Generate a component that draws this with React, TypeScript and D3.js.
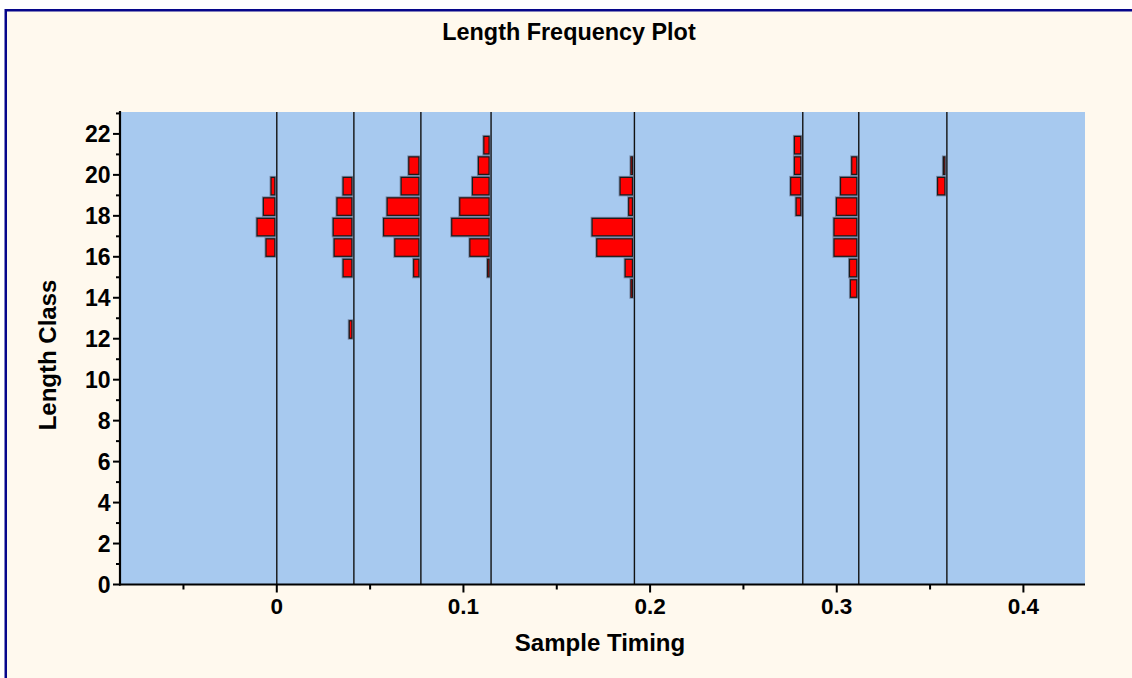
import React from "react";
import * as d3 from "d3";

// ---- data ----
const sampleTimings = [0, 0.0413, 0.0772, 0.1148, 0.1916, 0.2818, 0.3118, 0.359];
const lengthClasses = [12, 13, 14, 15, 16, 17, 18, 19, 20, 21];
// frequency (bar length, in 0.001 timing units) per length class, one array per sample
const freqSample1 = [0, 0, 0, 0, 4.7, 9.5, 6.1, 2.0, 0, 0];
const freqSample2 = [1.4, 0, 0, 4.7, 9.5, 10.0, 8.0, 4.7, 0, 0];
const freqSample3 = [0, 0, 0, 2.8, 12.9, 18.9, 17.0, 9.5, 5.4, 0];
const freqSample4 = [0, 0, 0, 0.8, 10.3, 20.0, 15.7, 8.9, 5.7, 2.8];
const freqSample5 = [0, 0, 0.8, 3.9, 19.1, 21.6, 2.0, 6.6, 0.8, 0];
const freqSample6 = [0, 0, 0, 0, 0, 0, 2.5, 5.4, 3.4, 3.4];
const freqSample7 = [0, 0, 3.4, 3.9, 12.2, 12.2, 10.9, 8.7, 2.7, 0];
const freqSample8 = [0, 0, 0, 0, 0, 0, 0, 3.9, 0.8, 0];
const frequencies = [
  freqSample1, freqSample2, freqSample3, freqSample4,
  freqSample5, freqSample6, freqSample7, freqSample8,
];
const freqUnit = 0.001;

const xMajorTicks = [0, 0.1, 0.2, 0.3, 0.4];
const xTickLabels = ["0", "0.1", "0.2", "0.3", "0.4"];
const xMinorTicks = [-0.05, 0.05, 0.15, 0.25, 0.35];
const yMajorTicks = [0, 2, 4, 6, 8, 10, 12, 14, 16, 18, 20, 22];
const yMinorTicks = [1, 3, 5, 7, 9, 11, 13, 15, 17, 19, 21, 23];

const title = "Length Frequency Plot";
const xTitle = "Sample Timing";
const yTitle = "Length Class";

// ---- layout ----
const W = 1132;
const H = 678;
const plotLeft = 120;
const plotRight = 1085;
const plotTop = 112;
const plotBottom = 584.5;
const FONT = "'Liberation Sans', Arial, sans-serif";

export default function App() {
  const x = d3.scaleLinear().domain([-0.084, 0.433]).range([plotLeft, plotRight]);
  const y = d3.scaleLinear().domain([0, 23.07]).range([plotBottom, plotTop]);

  const bars: { key: string; x0: number; x1: number; y0: number; y1: number }[] = [];
  frequencies.forEach((arr, si) => {
    const t = sampleTimings[si];
    arr.forEach((f, ci) => {
      if (f <= 0) return;
      const c = lengthClasses[ci];
      const xr = x(t) - 2;
      const xl = xr - (x(t) - x(t - f * freqUnit));
      bars.push({ key: `${si}-${c}`, x0: xl, x1: xr, y0: y(c + 1) + 2.5, y1: y(c) - 0.5 });
    });
  });

  return (
    <svg
      width={W}
      height={H}
      style={{ position: "absolute", left: 0, top: 0, display: "block" }}
    >
      <rect x={0} y={0} width={W} height={H} fill="#ffffff" />
      <rect
        x={5.75}
        y={10.25}
        width={W + 50}
        height={H + 50}
        fill="#FFF9EE"
        stroke="#06068A"
        strokeWidth={2.5}
      />
      <text
        x={569}
        y={40}
        textAnchor="middle"
        fontFamily={FONT}
        fontWeight="bold"
        fontSize={23.4}
        fill="#000"
      >
        {title}
      </text>

      {/* plot background */}
      <rect
        x={plotLeft}
        y={plotTop}
        width={plotRight - plotLeft}
        height={plotBottom - plotTop}
        fill="#A7C9EF"
      />

      {/* sample lines */}
      {sampleTimings.map((t, i) => (
        <line
          key={"s" + i}
          x1={x(t)}
          x2={x(t)}
          y1={plotTop}
          y2={plotBottom}
          stroke="#111"
          strokeWidth={1.4}
        />
      ))}

      {/* bars */}
      {bars.map((b) => (
        <g key={b.key}>
          <rect
            x={b.x0}
            y={b.y0}
            width={Math.max(b.x1 - b.x0, 0.6)}
            height={b.y1 - b.y0}
            fill="none"
            stroke="rgba(60,60,80,0.45)"
            strokeWidth={3}
          />
          <rect
            x={b.x0}
            y={b.y0}
            width={Math.max(b.x1 - b.x0, 0.6)}
            height={b.y1 - b.y0}
            fill="#FF0000"
            stroke="#1a1a1a"
            strokeWidth={1.2}
          />
        </g>
      ))}

      {/* axes */}
      <line x1={plotLeft} x2={plotLeft} y1={plotTop - 1} y2={plotBottom + 1} stroke="#000" strokeWidth={2.2} />
      <line x1={plotLeft - 1} x2={plotRight} y1={plotBottom} y2={plotBottom} stroke="#000" strokeWidth={2.2} />

      {yMajorTicks.map((v) => (
        <g key={"ym" + v}>
          <line x1={plotLeft - 7} x2={plotLeft} y1={y(v)} y2={y(v)} stroke="#000" strokeWidth={2} />
          <text
            x={110.5}
            y={y(v) + 8}
            textAnchor="end"
            fontFamily={FONT}
            fontWeight="bold"
            fontSize={23}
            fill="#000"
          >
            {v}
          </text>
        </g>
      ))}
      {yMinorTicks.map((v) => (
        <line key={"yn" + v} x1={plotLeft - 4} x2={plotLeft} y1={y(v)} y2={y(v)} stroke="#000" strokeWidth={2} />
      ))}

      {xMajorTicks.map((v, i) => (
        <g key={"xm" + v}>
          <line x1={x(v)} x2={x(v)} y1={plotBottom} y2={plotBottom + 8} stroke="#000" strokeWidth={2} />
          <text
            x={x(v)}
            y={614}
            textAnchor="middle"
            fontFamily={FONT}
            fontWeight="bold"
            fontSize={22.5}
            fill="#000"
          >
            {xTickLabels[i]}
          </text>
        </g>
      ))}
      {xMinorTicks.map((v) => (
        <line key={"xn" + v} x1={x(v)} x2={x(v)} y1={plotBottom} y2={plotBottom + 5} stroke="#000" strokeWidth={2} />
      ))}

      <text
        x={600}
        y={651}
        textAnchor="middle"
        fontFamily={FONT}
        fontWeight="bold"
        fontSize={24}
        fill="#000"
      >
        {xTitle}
      </text>
      <text
        transform={`translate(56,355) rotate(-90)`}
        textAnchor="middle"
        fontFamily={FONT}
        fontWeight="bold"
        fontSize={24}
        fill="#000"
      >
        {yTitle}
      </text>
    </svg>
  );
}
